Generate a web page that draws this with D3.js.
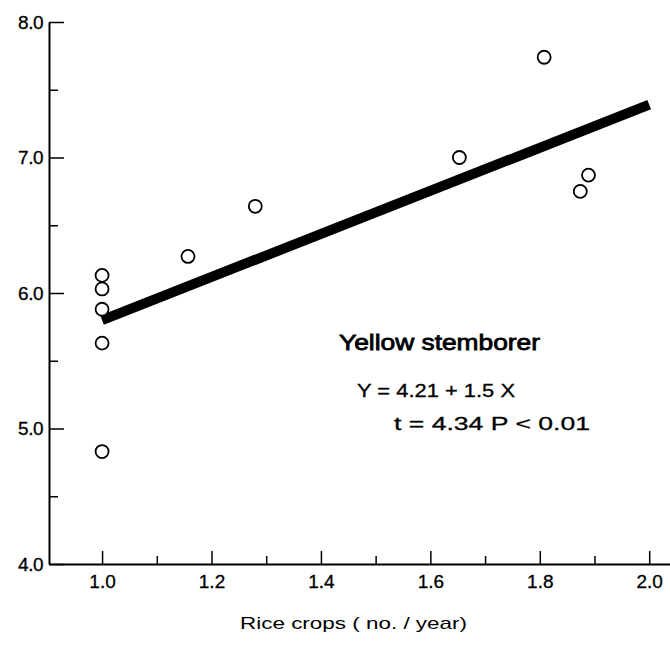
<!DOCTYPE html>
<html>
<head>
<meta charset="utf-8">
<script src="https://cdn.jsdelivr.net/npm/d3@7"></script>
<style>
  body { margin: 0; background: #fff; }
  text { font-family: "Liberation Sans", Arial, sans-serif; fill: #000; }
</style>
</head>
<body>
<script>
let w = 670;
let h = 645;

// data
let cropsX = [1.0, 1.0, 1.0, 1.0, 1.0, 1.157, 1.28, 1.653, 1.808, 1.874, 1.889];
let borerY = [6.13, 6.03, 5.88, 5.63, 4.83, 6.27, 6.64, 7.00, 7.74, 6.75, 6.87];
let fitX = [1.0, 2.0];
let fitY = [5.80, 7.39];
let xTicks = [1.0, 1.2, 1.4, 1.6, 1.8, 2.0];
let xMinor = [1.1, 1.3, 1.5, 1.7, 1.9];
let yTicks = [4.0, 5.0, 6.0, 7.0, 8.0];
let yMinor = [4.5, 5.5, 6.5, 7.5];

let x = d3.scaleLinear().domain([0.903, 2.038]).range([49, 670]);
let y = d3.scaleLinear().domain([4.0, 8.0]).range([564, 22]);

let svg = d3.select("body")
            .append("svg")
            .attr("width", w)
            .attr("height", h);

// y axis, ticks point inward
svg.append("g")
  .attr("transform", "translate(" + x(0.903) + ",0)")
  .call(d3.axisLeft(y).tickValues(yTicks).tickSizeInner(-15).tickSizeOuter(0)
        .tickPadding(6).tickFormat(d3.format(".1f")))
  .call(g => g.selectAll("text").attr("font-size", 19).attr("letter-spacing", -0.5)
              .attr("stroke", "#000").attr("stroke-width", 0.3));
svg.append("g")
  .attr("transform", "translate(" + x(0.903) + ",0)")
  .call(d3.axisLeft(y).tickValues(yMinor).tickSizeInner(-9).tickSizeOuter(0).tickFormat(""))
  .call(g => g.select(".domain").remove());

// x axis
svg.append("g")
  .attr("transform", "translate(0," + y(4.0) + ")")
  .call(d3.axisBottom(x).tickValues(xTicks).tickSizeInner(-13).tickSizeOuter(0)
        .tickPadding(11).tickFormat(d3.format(".1f")))
  .call(g => g.selectAll("text").attr("font-size", 19)
              .attr("stroke", "#000").attr("stroke-width", 0.3));
svg.append("g")
  .attr("transform", "translate(0," + y(4.0) + ")")
  .call(d3.axisBottom(x).tickValues(xMinor).tickSizeInner(-8).tickSizeOuter(0).tickFormat(""))
  .call(g => g.select(".domain").remove());

svg.selectAll(".domain").attr("stroke-width", 2);
svg.selectAll(".tick line").attr("stroke-width", 1.5);

// regression line
let line = d3.line().x(d => x(d[0])).y(d => y(d[1]));
svg.append("path")
  .datum(fitX.map((v, i) => [v, fitY[i]]))
  .attr("d", line)
  .attr("stroke", "#000")
  .attr("stroke-width", 10)
  .attr("fill", "none");

// points
svg.selectAll("circle")
  .data(cropsX)
  .enter()
  .append("circle")
    .attr("cx", d => x(d))
    .attr("cy", (d, i) => y(borerY[i]))
    .attr("r", 6.5)
    .attr("fill", "#fff")
    .attr("stroke", "#000")
    .attr("stroke-width", 1.8);

// annotations
svg.append("text").attr("x", 339).attr("y", 350).attr("font-size", 22)
  .attr("stroke", "#000").attr("stroke-width", 0.8)
  .attr("textLength", 201).attr("lengthAdjust", "spacingAndGlyphs").text("Yellow stemborer");
svg.append("text").attr("x", 357).attr("y", 397).attr("font-size", 19)
  .attr("stroke", "#000").attr("stroke-width", 0.3)
  .attr("textLength", 158).attr("lengthAdjust", "spacingAndGlyphs").text("Y = 4.21 + 1.5 X");
svg.append("text").attr("x", 394).attr("y", 430).attr("font-size", 19)
  .attr("stroke", "#000").attr("stroke-width", 0.3)
  .attr("textLength", 196).attr("lengthAdjust", "spacingAndGlyphs").text("t = 4.34  P < 0.01");

svg.append("text").attr("x", 240).attr("y", 629).attr("font-size", 17)
  .attr("textLength", 227).attr("lengthAdjust", "spacingAndGlyphs").text("Rice crops ( no. / year)");
</script>
</body>
</html>
